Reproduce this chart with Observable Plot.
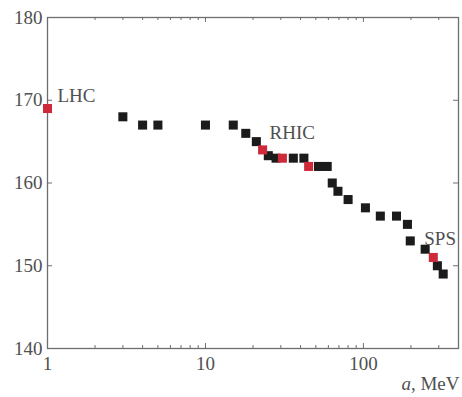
<!DOCTYPE html>
<html>
<head>
<meta charset="utf-8">
<script src="https://cdn.jsdelivr.net/npm/d3@7"></script>
<script src="https://cdn.jsdelivr.net/npm/@observablehq/plot@0.6"></script>
<style>
  html, body { margin: 0; padding: 0; background: #fff; }
</style>
</head>
<body>
<div id="chart"></div>
<script>
// Black points: energy a (MeV) and temperature T (MeV)
const blackA = [3, 4, 5, 10, 15, 18, 21, 25, 28, 36, 42, 52, 59, 63.5, 69, 80, 103, 128, 162, 190, 198, 246, 294, 320];
const blackT = [168, 167, 167, 167, 167, 166, 165, 163.3, 163, 163, 163, 162, 162, 160, 159, 158, 157, 156, 156, 155, 153, 152, 150, 149];
// Red (highlighted) points
const redA = [1, 23, 30.7, 45, 277];
const redT = [169, 164, 163, 162, 151];
// Labels
const labelText = ["LHC", "RHIC", "SPS"];
const labelA = [1, 23, 277];
const labelT = [169, 164, 151];
// Ticks
const xMajor = [1, 10, 100];
const xMinor = [2, 3, 4, 5, 6, 7, 8, 9, 20, 30, 40, 50, 60, 70, 80, 90, 200, 300, 400];
const yTicks = [140, 150, 160, 170, 180];
const xLabel = "a, MeV";

const W = 462, H = 397;
const mL = 47, mR = 4, mT = 17, mB = 49;
const pw = W - mL - mR, ph = H - mT - mB;

const black = blackA.map((a, i) => ({a, t: blackT[i]}));
const red = redA.map((a, i) => ({a, t: redT[i]}));
const labels = labelText.map((s, i) => ({s, a: labelA[i], t: labelT[i]}));
const dx = [10, 7, -9], dy = [-13, -17, -19];

const axisColor = "#6e6e6e";
const textColor = "#505050";

const plot = Plot.plot({
  width: W,
  height: H,
  marginLeft: mL,
  marginRight: mR,
  marginTop: mT,
  marginBottom: mB,
  style: {fontFamily: "'Liberation Serif', 'DejaVu Serif', serif", fontSize: "19px", color: textColor, background: "#fff"},
  x: {type: "log", domain: [1, 400]},
  y: {domain: [140, 180]},
  marks: [
    Plot.frame({stroke: axisColor, strokeWidth: 1.3}),
    // inward ticks bottom & top
    Plot.tickX(xMajor, {x: d => d, insetTop: ph - 5, stroke: axisColor}),
    Plot.tickX(xMinor, {x: d => d, insetTop: ph - 3, stroke: axisColor}),
    Plot.tickX(xMajor, {x: d => d, insetBottom: ph - 5, stroke: axisColor}),
    Plot.tickX(xMinor, {x: d => d, insetBottom: ph - 3, stroke: axisColor}),
    // inward ticks left & right
    Plot.tickY(yTicks, {y: d => d, insetRight: pw - 5, stroke: axisColor}),
    Plot.tickY(yTicks, {y: d => d, insetLeft: pw - 5, stroke: axisColor}),
    Plot.axisX({ticks: xMajor, tickSize: 0, tickPadding: 8, tickFormat: d => String(d),
      label: xLabel, labelAnchor: "right", labelArrow: "none", labelOffset: 41, fill: textColor}),
    Plot.axisY({ticks: yTicks, tickSize: 0, tickPadding: 5, label: null, fill: textColor}),
    Plot.dot(black, {x: "a", y: "t", symbol: "square", r: 5.1, fill: "#1b1b1b", stroke: "none"}),
    Plot.dot(red, {x: "a", y: "t", symbol: "square", r: 5.1, fill: "#cf2a3a", stroke: "none"}),
    ...labels.map((l, i) => Plot.text([l], {x: "a", y: "t", text: "s", textAnchor: "start", dx: dx[i], dy: dy[i], fill: textColor, fontSize: 19}))
  ]
});

// italicize the "a" in the axis label
plot.querySelectorAll("text").forEach(t => {
  if (t.textContent === xLabel) {
    t.textContent = "";
    const ns = "http://www.w3.org/2000/svg";
    const t1 = document.createElementNS(ns, "tspan");
    t1.setAttribute("font-style", "italic");
    t1.textContent = "a";
    const t2 = document.createElementNS(ns, "tspan");
    t2.textContent = ", MeV";
    t.appendChild(t1);
    t.appendChild(t2);
  }
});

document.getElementById("chart").appendChild(plot);
</script>
</body>
</html>
